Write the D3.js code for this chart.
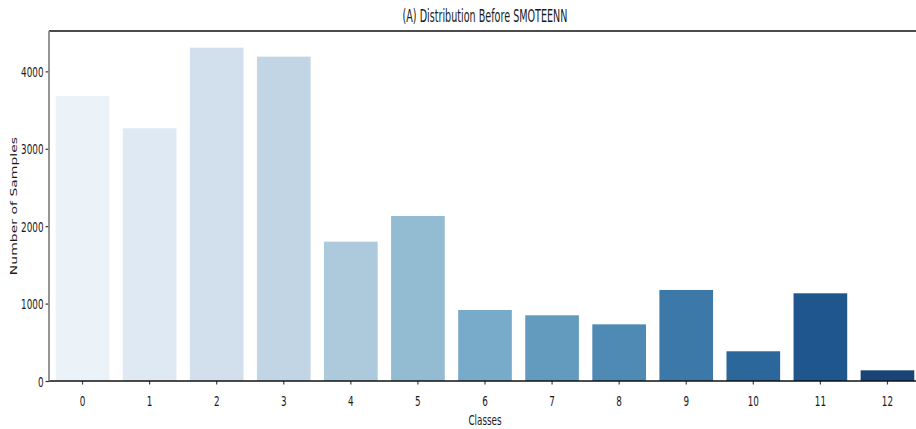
<!DOCTYPE html>
<html>
<head>
<meta charset="utf-8">
<script src="https://cdn.jsdelivr.net/npm/d3@7"></script>
<style>
  html, body { margin: 0; padding: 0; background: #fff; }
  svg { display: block; }
  text { font-family: "DejaVu Sans", sans-serif; fill: #1a1a1a; }
</style>
</head>
<body>
<svg id="chart" width="916" height="429"></svg>
<script>
// Class counts before resampling
const classes = ["0", "1", "2", "3", "4", "5", "6", "7", "8", "9", "10", "11", "12"];
const counts = [3682, 3265, 4306, 4190, 1800, 2132, 917, 849, 732, 1176, 384, 1133, 138];
const yTicks = [0, 1000, 2000, 3000, 4000];
const titleText = "(A) Distribution Before SMOTEENN";
const xLabel = "Classes";
const yLabel = "Number of Samples";

// Sequential blue ramp (9 anchor colours, linear interpolation)
const blueStops = ["#f7fbff", "#deebf7", "#c6dbef", "#9ecae1", "#6baed6",
                   "#4292c6", "#2171b5", "#08519c", "#08306b"];
const blueRamp = d3.scaleLinear()
  .domain(d3.range(blueStops.length).map(i => i / (blueStops.length - 1)))
  .range(blueStops)
  .interpolate(d3.interpolateRgb);
// sample the ramp away from both ends, then soften saturation a little
const palette = classes.map((_, i) => {
  const c = d3.hsl(blueRamp((i + 1) / (classes.length + 1)));
  c.s *= 0.75;
  return c.formatHex();
});

const svg = d3.select("#chart");
const plot = { left: 49, right: 921, top: 31, bottom: 381 };
const sx = 0.63; // narrow glyph width

const x = d3.scaleBand().domain(classes).range([plot.left, plot.right])
  .paddingInner(0.2).paddingOuter(0.1);
const y = d3.scaleLinear().domain([0, d3.max(counts) * 1.05]).range([plot.bottom, plot.top]);

// bars
svg.append("g").selectAll("rect").data(counts).join("rect")
  .attr("x", (d, i) => x(classes[i]))
  .attr("width", x.bandwidth())
  .attr("y", d => y(d))
  .attr("height", d => y(0) - y(d))
  .attr("fill", (d, i) => palette[i]);

// y axis
const gy = svg.append("g").attr("transform", `translate(${plot.left},0)`)
  .call(d3.axisLeft(y).tickValues(yTicks).tickSize(3.5).tickFormat(d3.format("d")));
gy.select(".domain").remove();
gy.selectAll(".tick line").attr("stroke", "#333").attr("stroke-width", 1.2);
gy.selectAll(".tick text")
  .attr("x", null).attr("dy", "0.36em")
  .attr("transform", `translate(-5.5,0) scale(${sx},1)`)
  .style("font-size", "14px").style("font-family", "DejaVu Sans, sans-serif")
  .attr("fill", "#1a1a1a");

// x axis
const gx = svg.append("g").attr("transform", `translate(0,${plot.bottom})`)
  .call(d3.axisBottom(x).tickSize(3.5));
gx.select(".domain").remove();
gx.selectAll(".tick line").attr("stroke", "#444").attr("stroke-width", 1.2);
gx.selectAll(".tick text")
  .attr("y", null).attr("dy", null)
  .attr("transform", `translate(0,24.5) scale(${sx},1)`)
  .style("font-size", "14px").style("font-family", "DejaVu Sans, sans-serif")
  .attr("fill", "#1a1a1a");

// frame lines
svg.append("line").attr("x1", plot.left).attr("x2", plot.right).attr("y1", plot.top).attr("y2", plot.top)
  .attr("stroke", "#111").attr("stroke-width", 1.5);
svg.append("line").attr("x1", plot.left).attr("x2", plot.right).attr("y1", plot.bottom).attr("y2", plot.bottom)
  .attr("stroke", "#111").attr("stroke-width", 1.5);
svg.append("line").attr("x1", plot.left).attr("x2", plot.left).attr("y1", plot.top).attr("y2", plot.bottom)
  .attr("stroke", "#8a8a8a").attr("stroke-width", 1.8);

// title
svg.append("text")
  .attr("transform", `translate(${(plot.left + plot.right) / 2},22) scale(0.565,1)`)
  .attr("text-anchor", "middle")
  .style("font-size", "17px")
  .text(titleText);

// axis labels
svg.append("text")
  .attr("transform", `translate(${(plot.left + plot.right) / 2},425) scale(${sx},1)`)
  .attr("text-anchor", "middle")
  .style("font-size", "14px")
  .text(xLabel);

svg.append("text")
  .attr("transform", `translate(17,${(plot.top + plot.bottom) / 2}) scale(${sx},1) rotate(-90)`)
  .attr("text-anchor", "middle")
  .style("font-size", "14px")
  .attr("fill", "#222")
  .text(yLabel);
</script>
</body>
</html>
